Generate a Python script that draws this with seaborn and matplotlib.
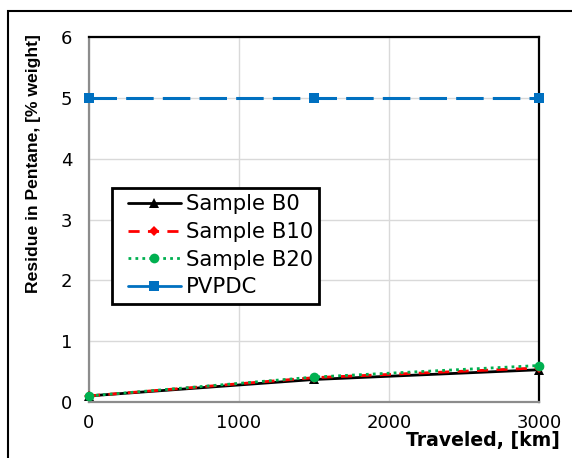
import matplotlib
matplotlib.use("Agg")
import matplotlib.pyplot as plt
from matplotlib.lines import Line2D
from matplotlib.legend_handler import HandlerLine2D
from matplotlib.patches import Rectangle
import pandas as pd
import seaborn as sns

# Distance travelled and residue measurements
distance_km = [0, 1500, 3000]
b0 = [0.10, 0.37, 0.53]
b10 = [0.10, 0.40, 0.56]
b20 = [0.10, 0.41, 0.60]
pvpdc = [5.0, 5.0, 5.0]

series_names = ["Sample B0", "Sample B10", "Sample B20", "PVPDC"]
series_values = [b0, b10, b20, pvpdc]
colors = ["#000000", "#FF0000", "#00B050", "#0070C0"]
markers = ["^", "D", "o", "s"]
marker_sizes = [7, 5, 7, 7]
line_dashes = [None, (4, 3), (1, 1.5), (9, 3)]

sns.set_theme(style="whitegrid")
plt.rcParams["font.family"] = ["DejaVu Sans"]
plt.rcParams["text.color"] = "black"
plt.rcParams["axes.labelcolor"] = "black"

fig = plt.figure(figsize=(5.72, 4.58), dpi=100)
ax = fig.add_axes([89 / 572, 1 - 402 / 458, 450 / 572, 365 / 458])

rows = []
for name, vals in zip(series_names, series_values):
    for d, v in zip(distance_km, vals):
        rows.append({"distance": d, "residue": v, "series": name})
df = pd.DataFrame(rows)

for name, col, mk, ms, ds in zip(series_names, colors, markers, marker_sizes, line_dashes):
    sub = df[df["series"] == name]
    sns.lineplot(data=sub, x="distance", y="residue", ax=ax, color=col,
                 marker=mk, markersize=ms, markeredgewidth=0,
                 linewidth=2 if name != "PVPDC" else 2.2,
                 legend=False, clip_on=False, zorder=5)
    line = ax.lines[-1]
    if ds is not None:
        line.set_dashes(ds)

ax.set_xlim(0, 3000)
ax.set_ylim(0, 6)
ax.set_xticks([0, 1000, 2000, 3000])
ax.set_yticks(range(0, 7))
ax.grid(True, color="#d9d9d9", linewidth=1)
ax.tick_params(axis="both", length=0, labelsize=13, colors="#000000")
ax.tick_params(axis="x", pad=9)
ax.tick_params(axis="y", pad=12)

for side in ["top", "right"]:
    ax.spines[side].set_color("#000000")
    ax.spines[side].set_linewidth(1.6)
for side in ["left", "bottom"]:
    ax.spines[side].set_color("#8c8c8c")
    ax.spines[side].set_linewidth(1.6)

ax.set_xlabel("Traveled, [km]", fontsize=13.6, fontweight="bold", color="black")
ax.set_ylabel("Residue in Pentane, [% weight]", fontsize=12.6, fontweight="bold",
              color="black", family=["Liberation Sans", "DejaVu Sans"])
ax.xaxis.set_label_coords(1.047, -0.08)
ax.xaxis.label.set_horizontalalignment("right")
ax.yaxis.set_label_coords(-0.107, 0.654)

handles = []
for name, col, mk, ms, ds in zip(series_names, colors, markers, marker_sizes, line_dashes):
    h = Line2D([], [], color=col, marker=mk, markersize=ms, markeredgewidth=0, linewidth=2)
    if ds is not None and name != "PVPDC":
        h.set_dashes(ds)
    handles.append(h)
leg = ax.legend(handles, series_names, loc="upper left", bbox_to_anchor=(0.051, 0.586),
                fontsize=15.2, frameon=True, fancybox=False, handlelength=2.95,
                borderpad=0.3, labelspacing=0.36, handletextpad=0.25, borderaxespad=0,
                handler_map={Line2D: HandlerLine2D(xpad=0.47)})
leg.get_frame().set_edgecolor("#000000")
leg.get_frame().set_linewidth(2)
leg.get_frame().set_facecolor("white")
leg.get_frame().set_alpha(1)
for t in leg.get_texts():
    t.set_color("black")

# Outer frame
fig.patches.append(Rectangle((8 / 572, -0.1), 1.2, 1 - 11 / 458 + 0.1, transform=fig.transFigure,
                             fill=False, edgecolor="#000000", linewidth=1.5))

fig.savefig("out.png", dpi=100)
